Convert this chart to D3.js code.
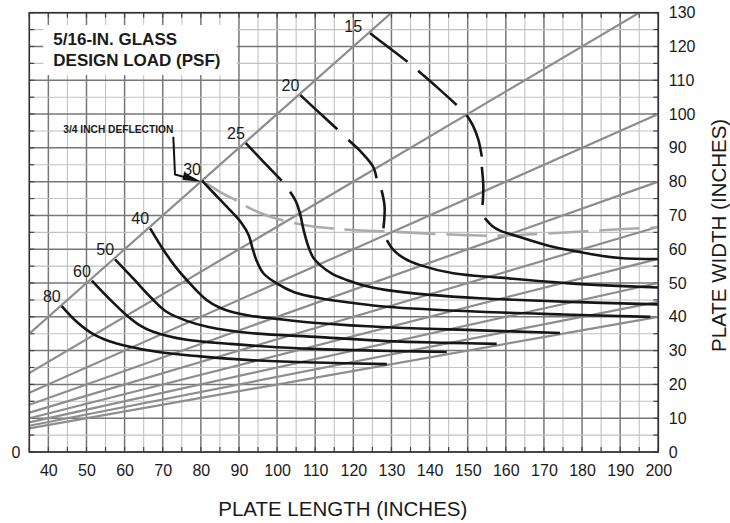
<!DOCTYPE html>
<html><head><meta charset="utf-8">
<script src="https://cdn.jsdelivr.net/npm/d3@7/dist/d3.min.js"></script>
<style>body{margin:0;background:#fff;} svg{display:block;font-family:"Liberation Sans",Arial,Helvetica,sans-serif;}</style>
</head><body><svg id="c" width="730" height="523"></svg>
<script>
// ---------- DATA ----------
const xTicks = d3.range(40, 201, 10);          // plate length labels
const yTicks = d3.range(0, 131, 10);           // plate width labels
const aspectRatios = [1, 1.5, 2, 2.5, 3, 3.5, 4, 4.5, 5]; // length/width guide lines
const loadLabels = ["15", "20", "25", "30", "40", "50", "60", "80"];
// each design-load curve = list of visible strokes, points [length, width]
const load15 = [
  [[124.4,123.9],[129.3,119.7],[134.2,115.5]],
  [[137.0,112.8],[142.0,107.9],[147.1,102.7]],
  [[149.7,99.7],[151.5,96.3],[152.8,92.4],[153.7,87.4]],
  [[153.7,84.4],[154.1,78.5],[153.9,73.1]],
  [[154.5,69.2],[156.5,66.8],[158.5,65.5],[163.4,63.7],[172.0,60.8],[181.2,58.8],[189.9,57.4],[200,57.1]]
];
const load20 = [
  [[106.1,105.6],[111.0,100.5],[115.8,95.5]],
  [[118.7,92.3],[122.2,88.6],[125.2,84.4],[126.1,81.0]],
  [[127.4,77.5],[128.2,72.6],[127.9,66.2]],
  [[128.8,62.7],[130.5,59.8],[133.5,57.2],[137.5,55.3],[146.2,52.9],[158.5,51.6],[176.8,49.9],[200,48.7]]
];
const load25 = [
  [[91.8,91.4],[96.5,85.8],[101.2,80.3]],
  [[103.4,77.0],[105.0,74.0],[106.0,70.6],[107.0,65.5],[108.2,60.8],[109.5,57.5],[111.3,55.3],[114.5,52.7],[118.3,50.9],[123.0,49.2],[128.8,47.9],[140.1,46.5],[153.2,45.5],[175.0,44.5],[200,43.7]]
];
const load30 = [
  [[80.3,80.3],[83.5,76.5],[86.8,72.6],[90.7,67.7],[92.5,64.3],[93.5,60.5],[94.5,57.0],[96.4,52.9],[99.9,49.9],[104.5,47.3],[111.3,45.5],[120,44.1],[128.8,43.0],[153.2,41.5],[175,40.7],[197.9,40.0]]
];
const load40 = [
  [[66.7,66.2],[70.2,59.8],[73.2,55.0],[76.3,50.9],[81.5,45.0],[85.0,42.7],[89,41.2],[92.9,40.3],[99.9,39.4],[111.3,38.1],[128.8,36.9],[153.2,36.0],[174.2,35.2]]
];
const load50 = [
  [[57.5,57.0],[62.3,51.3],[67.1,45.5],[71.0,41.5],[76.3,38.8],[82,37.0],[92.9,35.2],[111.3,34.0],[128.8,32.8],[145,32.3],[157.6,32.0]]
];
const load60 = [
  [[51.4,50.7],[56,45.3],[60.5,40.5],[64,37.5],[67.5,35.6],[76.3,33.2],[87.7,32.0],[100,31.0],[115,30.3],[130,29.9],[144.5,29.6]]
];
const load80 = [
  [[43.5,43.2],[47.5,38.5],[51.8,34.9],[56,32.8],[60.5,31.4],[69.3,29.5],[79.8,28.3],[92.9,27.2],[110,26.5],[128.8,26.0]]
];
const deflection = [[80.3,80.3],[85,77],[89.8,74.1],[92.9,72.1],[98.2,69.6],[102.9,68.2],[106.9,67.2],[113.9,66.2],[119.6,65.7],[130.1,65.2],[142.7,64.5],[156.3,64.0],[170,64.6],[185,65.6],[200,66.5]];
const loadCurves = [load15, load20, load25, load30, load40, load50, load60, load80];

// ---------- SCALES ----------
const svg = d3.select("#c");
const x = d3.scaleLinear().domain([35, 200]).range([29.3, 658.3]);
const y = d3.scaleLinear().domain([0, 130]).range([452, 12.7]);
const [X0, X1] = x.range(), [Y0, Y1] = y.range();

svg.append("defs").append("clipPath").attr("id", "plot")
  .append("rect").attr("x", X0).attr("y", Y1).attr("width", X1 - X0).attr("height", Y0 - Y1);

// ---------- GRID ----------
const grid = svg.append("g");
d3.range(35, 201, 5).forEach(v => {
  const major = v % 10 === 0;
  grid.append("line").attr("x1", x(v)).attr("x2", x(v)).attr("y1", Y0).attr("y2", Y1)
    .attr("stroke", major ? "#777" : "#c2c2c2").attr("stroke-width", major ? 1.5 : 1.1);
});
d3.range(0, 131, 5).forEach(v => {
  const major = v % 10 === 0;
  grid.append("line").attr("x1", X0).attr("x2", X1).attr("y1", y(v)).attr("y2", y(v))
    .attr("stroke", major ? "#777" : "#c2c2c2").attr("stroke-width", major ? 1.5 : 1.1);
});
// inward ticks at every 5
d3.range(35, 201, 5).forEach(v => {
  grid.append("line").attr("x1", x(v)).attr("x2", x(v)).attr("y1", Y0).attr("y2", Y0 - 5).attr("stroke", "#444").attr("stroke-width", 1.2);
  grid.append("line").attr("x1", x(v)).attr("x2", x(v)).attr("y1", Y1).attr("y2", Y1 + 5).attr("stroke", "#444").attr("stroke-width", 1.2);
});
d3.range(0, 131, 5).forEach(v => {
  grid.append("line").attr("x1", X0).attr("x2", X0 + 5).attr("y1", y(v)).attr("y2", y(v)).attr("stroke", "#444").attr("stroke-width", 1.2);
  grid.append("line").attr("x1", X1).attr("x2", X1 - 5).attr("y1", y(v)).attr("y2", y(v)).attr("stroke", "#444").attr("stroke-width", 1.2);
});

// ---------- TITLE BOX ----------
svg.append("rect").attr("x", 43.3).attr("y", 25).attr("width", 193.4).attr("height", 50).attr("fill", "#fff");
svg.append("text").attr("x", 53.3).attr("y", 45).attr("font-size", 17).attr("font-weight", "bold").attr("fill", "#1a1a1a").text("5/16-IN. GLASS");
svg.append("text").attr("x", 53.3).attr("y", 65.5).attr("font-size", 17).attr("font-weight", "bold").attr("fill", "#1a1a1a").text("DESIGN LOAD (PSF)");

// ---------- GUIDE LINES ----------
const plot = svg.append("g").attr("clip-path", "url(#plot)");
plot.selectAll("line.ratio").data(aspectRatios).join("line").attr("class", "ratio")
  .attr("x1", x(35)).attr("y1", r => y(35 / r))
  .attr("x2", x(200)).attr("y2", r => y(200 / r))
  .attr("stroke", "#8d8d8d").attr("stroke-width", 2.2);

const lineGen = d3.line().x(d => x(d[0])).y(d => y(d[1])).curve(d3.curveCatmullRom.alpha(0.5));

plot.append("path").attr("d", lineGen(deflection)).attr("fill", "none")
  .attr("stroke", "#ababab").attr("stroke-width", 2.6).attr("stroke-dasharray", "40,11");

// ---------- LOAD CURVES ----------
loadCurves.forEach((pieces, i) => {
  plot.append("g").selectAll("path").data(pieces).join("path")
    .attr("d", lineGen).attr("fill", "none").attr("stroke", "#161616")
    .attr("stroke-width", 2.6).attr("stroke-linecap", "butt");
  const s = pieces[0][0];
  const dx = loadLabels[i] === "15" ? -8 : -1;
  const dy = loadLabels[i] === "15" ? -1 : (loadLabels[i] === "30" ? -6 : -4);
  svg.append("text").attr("x", x(s[0]) + dx).attr("y", y(s[1]) + dy)
    .attr("text-anchor", "end").attr("font-size", 16).attr("fill", "#1a1a1a").text(loadLabels[i]);
});

// ---------- FRAME ----------
svg.append("rect").attr("x", X0).attr("y", Y1).attr("width", X1 - X0).attr("height", Y0 - Y1)
  .attr("fill", "none").attr("stroke", "#333").attr("stroke-width", 1.6);

// ---------- DEFLECTION ANNOTATION ----------
svg.append("text").attr("x", 63.3).attr("y", 132.5).attr("font-size", 10).attr("font-weight", "bold")
  .attr("textLength", 110).attr("lengthAdjust", "spacingAndGlyphs").attr("fill", "#1a1a1a").text("3/4 INCH DEFLECTION");
svg.append("path").attr("d", "M173.3,136.7 L175,174.5 L186,177.5").attr("fill", "none").attr("stroke", "#111").attr("stroke-width", 2);
svg.append("path").attr("d", "M184,172.5 L201.5,181.7 L182.5,180 Z").attr("fill", "#111");

// ---------- AXES ----------
const ax = svg.append("g").attr("transform", `translate(0,${Y0})`)
  .call(d3.axisBottom(x).tickValues(xTicks).tickSize(0).tickPadding(13));
ax.select(".domain").remove();
ax.selectAll("text").attr("font-size", 16).attr("fill", "#1a1a1a").attr("font-family", "Liberation Sans, Arial, sans-serif");

const ay = svg.append("g").attr("transform", `translate(${X1},0)`)
  .call(d3.axisRight(y).tickValues(yTicks).tickSize(0).tickPadding(10.5));
ay.select(".domain").remove();
ay.selectAll("text").attr("font-size", 16).attr("fill", "#1a1a1a").attr("font-family", "Liberation Sans, Arial, sans-serif");

svg.append("text").attr("x", 20.5).attr("y", y(0)).attr("dy", "0.35em").attr("text-anchor", "end")
  .attr("font-size", 16).attr("fill", "#1a1a1a").text("0");

svg.append("text").attr("x", (X0 + X1) / 2 - 1).attr("y", 516).attr("text-anchor", "middle")
  .attr("font-size", 20.5).attr("fill", "#1a1a1a").text("PLATE LENGTH (INCHES)");
svg.append("text").attr("transform", `translate(726,${(Y0 + Y1) / 2 + 3}) rotate(-90)`).attr("text-anchor", "middle")
  .attr("font-size", 20.5).attr("fill", "#1a1a1a").text("PLATE WIDTH (INCHES)");
</script></body></html>
